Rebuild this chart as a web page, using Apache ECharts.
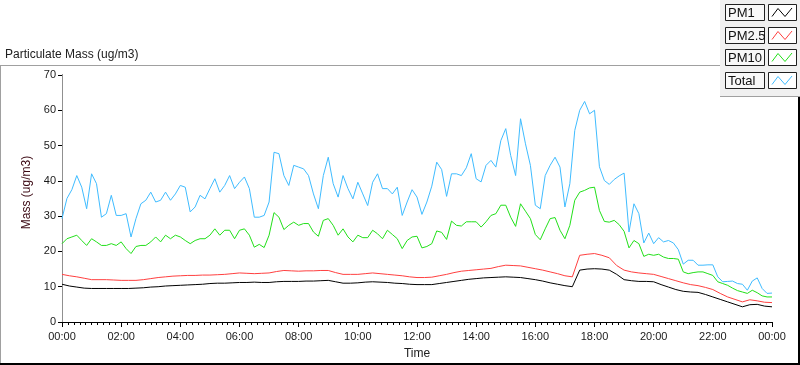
<!DOCTYPE html>
<html>
<head>
<meta charset="utf-8">
<script src="https://cdn.jsdelivr.net/npm/echarts@6/dist/echarts.min.js"></script>
<style>
  html, body { margin: 0; padding: 0; background: #ffffff; }
  #chart { width: 800px; height: 365px; }
</style>
</head>
<body>
<div id="chart"></div>
<script>
// ---------- DATA ----------
const chartTitle = 'Particulate Mass (ug/m3)';
const yAxisTitle = 'Mass (ug/m3)';
const xAxisTitle = 'Time';
const seriesNames = ['PM1', 'PM2.5', 'PM10', 'Total'];
const xTickLabels = ['00:00', '02:00', '04:00', '06:00', '08:00', '10:00', '12:00',
                     '14:00', '16:00', '18:00', '20:00', '22:00', '00:00'];
const yTickValues = [0, 10, 20, 30, 40, 50, 60, 70];

// Total and PM10: one reading every 10 minutes (00:00 .. 24:00)
const fineStepHours = 1 / 6;
const totalValues = [
  29.3, 35, 37.5, 41.5, 38.2, 32.1, 42, 39.2, 29.7, 30.7,
  35.9, 30.2, 30.2, 30.7, 24.1, 29.3, 33.5, 34.5, 36.8, 34,
  34.5, 36.8, 34.5, 36.3, 38.7, 38.2, 31.2, 32.6, 35.9, 34.9,
  37.8, 40.6, 36.8, 38.7, 41.5, 37.8, 39.6, 41.1, 37.8, 29.7,
  29.7, 30.2, 34, 48.1, 47.7, 41.5, 38.7, 44.4, 43.9, 43.4,
  41.5, 36.3, 32.1, 41.5, 46.7, 39.2, 35.4, 41.5, 37.8, 34.9,
  39.6, 36.3, 33, 39.6, 42, 37.8, 37.8, 36.3, 38.2, 30.2,
  34, 37.5, 35.4, 30.5, 34, 38.5, 45.3, 43.2, 35.6, 42,
  42, 41.5, 43.7, 47.7, 40.6, 39.7, 44.4, 45.8, 43.9, 51.4,
  54.8, 47.2, 41.5, 57.6, 50.5, 44.4, 33.1, 32.1, 41.5, 44.4,
  46.7, 43.9, 32.6, 39.2, 54.3, 60, 62.5, 59, 60, 44,
  40.1, 39, 40.4, 41.4, 42.2, 25.5, 33.5, 30.7, 22.4, 25.2,
  22.2, 23.9, 22.7, 23.1, 22.4, 20.5, 16.4, 17.5, 17.5, 16.1,
  16.1, 16.2, 16.2, 12.8, 11.4, 11.5, 11.6, 10.9, 10.7, 9,
  11.6, 12.5, 9.5, 8.1, 8.2
];
const pm10Values = [
  22.2, 23.6, 24.1, 24.6, 23.1, 21.7, 23.6, 22.7, 21.7, 21.7,
  22.2, 21.7, 22.7, 20.8, 19.4, 21.4, 21.7, 21.7, 22.7, 24.1,
  22.7, 24.6, 23.6, 24.6, 24.1, 23.1, 22.2, 23.1, 23.6, 23.6,
  24.6, 26.4, 24.6, 26, 26, 23.6, 26, 26.4, 24.6, 21.2,
  22, 21.1, 24.6, 31, 29.7, 26.2, 27.4, 28.3, 27.4, 27.9,
  27.9, 25.5, 24.3, 28.8, 29.3, 27.4, 24.6, 26.4, 24.1, 22.7,
  24.6, 23.9, 23.9, 26, 25, 23.6, 26, 24.8, 23.6, 20.8,
  23.1, 24.1, 24.3, 21, 21.4, 22.2, 25.8, 25.4, 23.4, 28.6,
  27.4, 27.2, 28.4, 28.4, 28.4, 26.9, 28.4, 30.2, 30.7, 33.1,
  33.1, 29.7, 27.1, 33.5, 31.4, 29.3, 24.8, 23.3, 26.4, 29.3,
  29.6, 26, 23.6, 27.4, 34.5, 36.8, 37.3, 38, 38.2, 31.6,
  28.5, 28.3, 28.8, 27.6, 25.7, 21, 23.1, 22.2, 18.6, 19.2,
  18.9, 19.2, 18.4, 18, 18, 17.8, 14.2, 13.7, 14, 14.2,
  14.2, 13.7, 13.2, 11.4, 10.9, 10.4, 9.6, 8.9, 8.5, 8.1,
  9, 8.3, 7.4, 7.1, 7.1
];

// PM2.5 and PM1: one reading every 15 minutes (smooth curves)
const coarseStepHours = 0.25;
const pm25Values = [
  13.5, 13.1, 12.8, 12.4, 12.0, 12.0, 12.0, 11.9, 11.8, 11.8,
  11.8, 12.0, 12.3, 12.6, 12.8, 13.0, 13.1, 13.2, 13.2, 13.3,
  13.3, 13.4, 13.5, 13.7, 13.9, 13.8, 13.7, 13.8, 13.9, 14.3,
  14.6, 14.5, 14.4, 14.5, 14.5, 14.6, 14.6, 14.0, 13.5, 13.5,
  13.5, 13.7, 13.9, 13.7, 13.5, 13.3, 13.1, 12.8, 12.6, 12.6,
  12.7, 13.1, 13.5, 14.0, 14.4, 14.6, 14.8, 15.0, 15.2, 15.7,
  16.1, 16.0, 15.9, 15.5, 15.1, 14.7, 14.2, 13.7, 13.1, 12.8,
  18.9, 19.2, 19.4, 18.9, 18.2, 16.0, 14.7, 14.2, 13.9, 13.7,
  13.5, 12.9, 12.3, 11.7, 11.1, 10.6, 10.3, 9.8, 9.2, 8.1,
  7.1, 6.4, 5.7, 6.3, 6.0, 5.6, 5.5
];
const pm1Values = [
  10.7, 10.2, 9.9, 9.6, 9.5, 9.5, 9.5, 9.5, 9.5, 9.5,
  9.6, 9.7, 9.9, 10.0, 10.2, 10.3, 10.4, 10.5, 10.6, 10.7,
  10.9, 11.0, 11.0, 11.1, 11.2, 11.2, 11.3, 11.2, 11.2, 11.4,
  11.5, 11.5, 11.5, 11.6, 11.6, 11.7, 11.8, 11.4, 11.0, 11.0,
  11.1, 11.3, 11.4, 11.3, 11.2, 11.0, 10.9, 10.7, 10.6, 10.6,
  10.6, 10.9, 11.2, 11.5, 11.8, 12.1, 12.3, 12.5, 12.6, 12.7,
  12.8, 12.7, 12.6, 12.3, 12.0, 11.6, 11.1, 10.7, 10.3, 10.0,
  14.7, 15.0, 15.1, 15.0, 14.7, 13.5, 12.0, 11.7, 11.5, 11.5,
  11.4, 10.6, 9.9, 9.2, 8.7, 8.5, 8.4, 7.8, 7.1, 6.4,
  5.7, 5.0, 4.3, 4.9, 5.0, 4.5, 4.3
];

// ---------- STYLE ----------
const seriesColors = ['#000000', '#ff4040', '#22e01a', '#3fbcff'];
const FONT = "'Liberation Sans', Arial, sans-serif";

function pairs(values, step) {
  return values.map((v, i) => [i * step, v]);
}
const seriesValues = [
  pairs(pm1Values, coarseStepHours),
  pairs(pm25Values, coarseStepHours),
  pairs(pm10Values, fineStepHours),
  pairs(totalValues, fineStepHours)
];

// ---------- LEGEND (boxed, LabVIEW style) ----------
const legendGraphics = [
  { type: 'rect', z: 100, shape: { x: 720, y: 0, width: 80, height: 96 },
    style: { fill: '#f0f0f0', stroke: null } },
  { type: 'line', z: 101, shape: { x1: 720, y1: 96.5, x2: 800, y2: 96.5 },
    style: { stroke: '#a0a0a0', lineWidth: 1 } }
];
seriesNames.forEach((name, i) => {
  const top = Math.round(4 + i * 22.7) + 0.5;
  legendGraphics.push(
    { type: 'rect', z: 101, shape: { x: 725.5, y: top, width: 39, height: 16 },
      style: { fill: '#f8f8f8', stroke: '#202020', lineWidth: 1 } },
    { type: 'text', z: 102, x: 728, y: top + 8.5,
      style: { text: name, font: '13px ' + FONT, fill: '#101010',
               textVerticalAlign: 'middle', verticalAlign: 'middle' } },
    { type: 'rect', z: 101, shape: { x: 768.5, y: top, width: 28, height: 16 },
      style: { fill: '#ffffff', stroke: '#202020', lineWidth: 1 } },
    { type: 'polyline', z: 102,
      shape: { points: [[772, top + 12], [778, top + 4], [785, top + 12], [792, top + 3.5]] },
      style: { stroke: seriesColors[i], lineWidth: 1, fill: null } }
  );
});

// ---------- FRAME ----------
const frameGraphics = [
  { type: 'line', z: 90, shape: { x1: 0, y1: 65.5, x2: 720, y2: 65.5 },
    style: { stroke: '#a0a0a0', lineWidth: 1 } },
  { type: 'line', z: 90, shape: { x1: 0.5, y1: 65, x2: 0.5, y2: 365 },
    style: { stroke: '#a0a0a0', lineWidth: 1 } },
  { type: 'line', z: 90, shape: { x1: 0, y1: 364, x2: 800, y2: 364 },
    style: { stroke: '#000000', lineWidth: 2 } },
  { type: 'line', z: 90, shape: { x1: 799, y1: 97, x2: 799, y2: 365 },
    style: { stroke: '#000000', lineWidth: 2 } },
  { type: 'text', z: 90, x: 5, y: 55,
    style: { text: chartTitle, font: '12px ' + FONT, fill: '#202020',
             textVerticalAlign: 'middle', verticalAlign: 'middle' } }
];

const chart = echarts.init(document.getElementById('chart'), null, { renderer: 'canvas' });
chart.setOption({
  animation: false,
  backgroundColor: '#ffffff',
  grid: { left: 62, right: 28, top: 75, bottom: 43, containLabel: false },
  xAxis: [
    {
      type: 'value', min: 0, max: 24, interval: 2,
      name: xAxisTitle, nameLocation: 'middle', nameGap: 26,
      nameTextStyle: { fontFamily: FONT, fontSize: 12, color: '#202020' },
      axisLine: { show: true, lineStyle: { color: '#909090', width: 1 } },
      axisTick: { show: true, length: 5, lineStyle: { color: '#000000', width: 1 } },
      minorTick: { show: true, splitNumber: 10, length: 3, lineStyle: { color: '#000000', width: 1 } },
      splitLine: { show: false },
      axisLabel: {
        margin: 9, fontFamily: FONT, fontSize: 11, color: '#1a1a1a',
        formatter: v => xTickLabels[Math.round(v / 2)]
      }
    },
    {
      type: 'value', min: 0, max: 24, position: 'top',
      axisLine: { show: true, lineStyle: { color: '#000000', width: 1 } },
      axisTick: { show: false }, axisLabel: { show: false }, splitLine: { show: false }
    }
  ],
  yAxis: [
    {
      type: 'value', min: yTickValues[0], max: yTickValues[yTickValues.length - 1], interval: 10,
      name: yAxisTitle, nameLocation: 'middle', nameGap: 24,
      nameTextStyle: { fontFamily: FONT, fontSize: 12, color: '#3c0a14', padding: [0, 0, 0, 12] },
      axisLine: { show: true, lineStyle: { color: '#000000', width: 1 } },
      axisTick: { show: true, length: 4, lineStyle: { color: '#000000', width: 1 } },
      splitLine: { show: false },
      axisLabel: { margin: 6, fontFamily: FONT, fontSize: 11, color: '#1a1a1a' }
    },
    {
      type: 'value', min: 0, max: 70, position: 'right',
      axisLine: { show: true, lineStyle: { color: '#909090', width: 1 } },
      axisTick: { show: false }, axisLabel: { show: false }, splitLine: { show: false }
    }
  ],
  series: seriesNames.map((name, i) => ({
    name: name,
    type: 'line',
    data: seriesValues[i],
    showSymbol: false,
    symbol: 'none',
    smooth: false,
    lineStyle: { color: seriesColors[i], width: 1 },
    itemStyle: { color: seriesColors[i] },
    z: 2 + i
  })),
  graphic: frameGraphics.concat(legendGraphics)
});
</script>
</body>
</html>
